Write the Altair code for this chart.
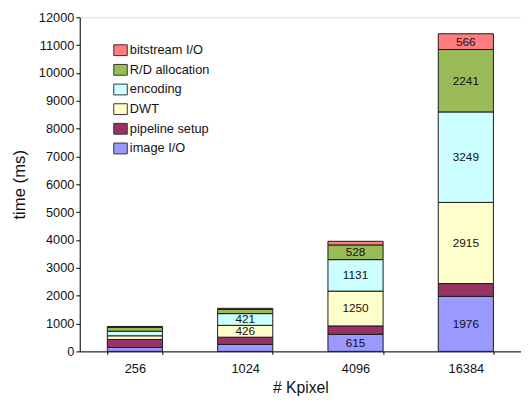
import altair as alt
import pandas as pd

categories = ["256", "1024", "4096", "16384"]
components = ["image I/O", "pipeline setup", "DWT", "encoding", "R/D allocation", "bitstream I/O"]
colors = ["#9999FF", "#993366", "#FFFFCC", "#CCFFFF", "#9BBB59", "#FF7C80"]

image_io = [140, 250, 615, 1976]
pipeline_setup = [290, 260, 300, 460]
dwt = [130, 426, 1250, 2915]
encoding = [165, 421, 1131, 3249]
rd_allocation = [140, 150, 528, 2241]
bitstream_io = [30, 40, 130, 566]
y_ticks = [0, 1000, 2000, 3000, 4000, 5000, 6000, 7000, 8000, 9000, 10000, 11000, 12000]

labeled = [
    [False, False, False, False, False, False],
    [False, False, True, True, False, False],
    [True, False, True, True, True, False],
    [True, False, True, True, True, True],
]

series = [image_io, pipeline_setup, dwt, encoding, rd_allocation, bitstream_io]
rows = []
for ci, cat in enumerate(categories):
    for si, comp in enumerate(components):
        v = series[si][ci]
        rows.append({
            "kpixel": cat,
            "component": comp,
            "order": si,
            "value": v,
            "label": str(v) if labeled[ci][si] else "",
        })
df = pd.DataFrame(rows)

FONT = "Liberation Sans"

base = alt.Chart(df).transform_stack(
    stack="value", groupby=["kpixel"], sort=[alt.SortField("order", order="ascending")], as_=["y0", "y1"]
).transform_calculate(mid="(datum.y0 + datum.y1) / 2")

x_axis = alt.Axis(
    labelAngle=0, tickBand="extent", tickSize=3, labelPadding=8,
    labelFontSize=13, titleFontSize=16, titlePadding=5,
    domainColor="black", tickColor="black", labelColor="#111", titleColor="#111",
    labelFont=FONT, titleFont=FONT, titleFontWeight="normal",
)
y_axis = alt.Axis(
    values=y_ticks, format="d", labelOverlap=False,
    grid=False, tickSize=4, labelPadding=2,
    labelFontSize=13, titleFontSize=17, titlePadding=10,
    domainColor="black", tickColor="black", labelColor="#111", titleColor="#111",
    labelFont=FONT, titleFont=FONT, titleFontWeight="normal",
)
x_scale = alt.Scale(paddingInner=0.5, paddingOuter=0.25)
y_scale = alt.Scale(domain=[0, 12000], nice=False)

legend_order = list(reversed(components))
legend_colors = list(reversed(colors))

bars = base.mark_bar(stroke="#1a1a1a", strokeWidth=1).encode(
    x=alt.X("kpixel:N", sort=categories, title="# Kpixel", scale=x_scale, axis=x_axis),
    y=alt.Y("y0:Q", title="time (ms)", scale=y_scale, axis=y_axis),
    y2="y1:Q",
    color=alt.Color(
        "component:N",
        scale=alt.Scale(domain=legend_order, range=legend_colors),
        legend=alt.Legend(
            title=None, orient="none", legendX=35, legendY=27,
            symbolType="M-1.25,-1H1.25V1H-1.25Z", symbolSize=121,
            symbolStrokeColor="#333", symbolStrokeWidth=1, symbolOpacity=1,
            labelFontSize=13, labelFont=FONT, labelColor="#111",
            labelOffset=3, rowPadding=5, padding=0,
        ),
    ),
)

texts = base.mark_text(fontSize=12, font=FONT, color="#111", baseline="middle").encode(
    x=alt.X("kpixel:N", sort=categories, title="# Kpixel", scale=x_scale, axis=x_axis),
    y=alt.Y("mid:Q", title="time (ms)", scale=y_scale, axis=y_axis),
    text="label:N",
)

chart = alt.layer(bars, texts).properties(
    width=449,
    height=340,
    autosize=alt.AutoSizeParams(type="none"),
    padding={"left": 73, "top": 6, "right": 0, "bottom": 44},
).configure_view(stroke=None).configure(background="white")

chart.save("out.html", embed_options={"renderer": "svg", "actions": False})
